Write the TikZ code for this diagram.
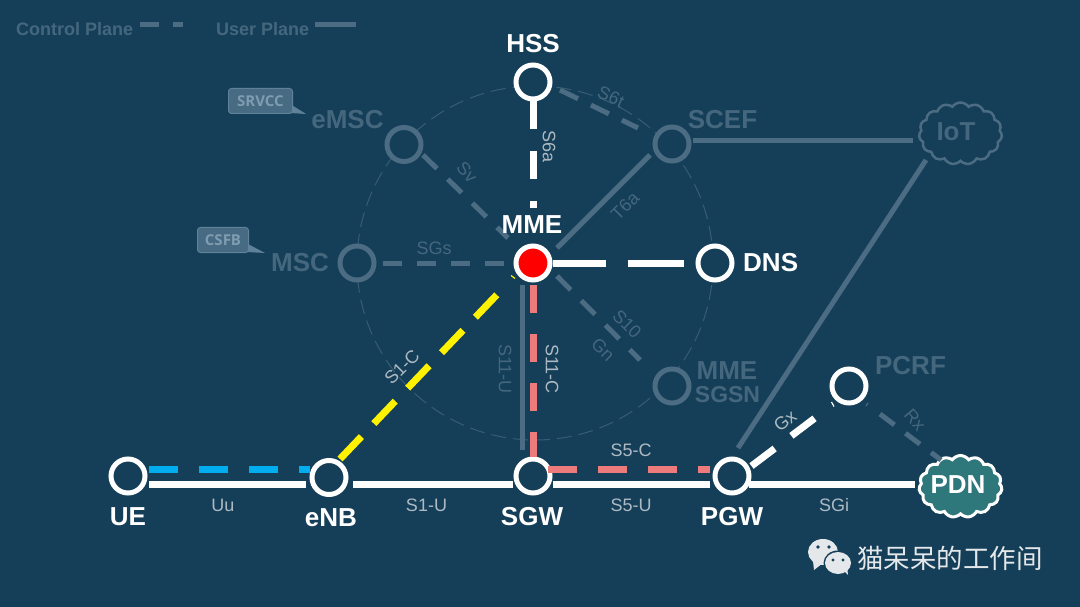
\documentclass[tikz,border=0pt]{standalone}
\usepackage{fontspec}
\setmainfont{Liberation Sans}
\newfontfamily\cjkfont{Noto Sans CJK SC}
\newfontfamily\callfont{Open Sans}
\usetikzlibrary{shapes.symbols}
\definecolor{bgc}{HTML}{153F58}
\definecolor{dimc}{HTML}{4B6C82}
\definecolor{dimt}{HTML}{44677D}
\definecolor{lab}{HTML}{AEBAC3}
\definecolor{salmon}{HTML}{EE7B7B}
\definecolor{bluec}{HTML}{00AEEF}
\definecolor{yel}{HTML}{FFF200}
\definecolor{pdnc}{HTML}{2E787C}
\definecolor{callf}{HTML}{466B82}
\definecolor{callb}{HTML}{5F8299}
\definecolor{callt}{HTML}{7F9CB0}
\definecolor{wec}{HTML}{E4E8EB}
\tikzset{
  ring/.style={circle,draw=white,fill=bgc,line width=5pt,minimum size=34pt,inner sep=0pt},
  dimring/.style={ring,draw=dimc},
  big/.style={font=\fontsize{26}{28}\selectfont\bfseries,text=white,inner sep=0pt},
  bigdim/.style={big,text=dimt},
  small/.style={font=\fontsize{18}{20}\selectfont,text=lab,inner sep=0pt},
  smalldim/.style={small,text=dimt},
  legendtext/.style={font=\fontsize{18}{20}\selectfont\bfseries,text=dimt,inner sep=0pt,anchor=west},
  userl/.style={draw=white,line width=7pt},
  ctrl/.style={line width=7pt,dash pattern=on 29pt off 21pt},
  dimuser/.style={draw=dimc,line width=5pt},
  dimctrl/.style={draw=dimc,line width=5pt,dash pattern=on 19.5pt off 15pt},
  sliver/.style={line width=1.2pt},
  callout/.style={draw=callb,line width=1pt,fill=callf,rounded corners=3pt,text=callt,
    font=\fontsize{15}{16}\selectfont\callfont\bfseries,inner sep=0pt},
  cloudy/.style={cloud,cloud puffs=15,cloud puff arc=110,aspect=1.35,inner sep=0pt,
    minimum width=83pt,minimum height=62pt},
}
\begin{document}
\begin{tikzpicture}[x=1pt,y=-1pt]
\useasboundingbox (0,0) rectangle (1080,607);
\fill[bgc] (0,0) rectangle (1080,607);
% dashed ring
\draw[dimc!65!bgc,line width=1pt,dash pattern=on 15pt off 7pt] (535,263) ellipse [x radius=178,y radius=177];
% nodes
\node[ring] (hss) at (533,82) {};
\node[ring,fill=red] (mme) at (533,263) {};
\node[ring] (dns) at (715,263) {};
\node[dimring] (emsc) at (404,144.5) {};
\node[dimring] (msc) at (357,263) {};
\node[dimring] (scef) at (672,144) {};
\node[dimring] (sgsn) at (672,386) {};
\node[ring] (pcrf) at (849,386) {};
\node[ring] (ue) at (128,476) {};
\node[ring] (enb) at (329,477.5) {};
\node[ring] (sgw) at (533,476) {};
\node[ring] (pgw) at (732,476) {};
\node[cloudy,draw=dimc,line width=2.5pt,fill=bgc] (iot) at (960.5,133.5) {};
\node[cloudy,draw=white,line width=3pt,fill=pdnc] (pdn) at (960.5,486.5) {};
% free ends of the connectors
\coordinate (hssEnd) at (533,208);
\coordinate (uA) at (149,484); \coordinate (uB) at (306,484);
\coordinate (uC) at (353,484); \coordinate (uD) at (513,484);
\coordinate (uE) at (553,484); \coordinate (uF) at (710,484);
\coordinate (uG) at (749,484); \coordinate (uH) at (915,484);
\coordinate (bA) at (149,469); \coordinate (bB) at (310,469);
\coordinate (sA) at (548,469); \coordinate (sB) at (710,469);
\coordinate (yA) at (340,459); \coordinate (yB) at (499.5,292);
\coordinate (yC) at (511,275.5); \coordinate (yD) at (515,278.5);
\coordinate (gxA) at (751.5,466); \coordinate (gxB) at (815,418);
\coordinate (gxC) at (831.5,402); \coordinate (gxD) at (834,406.5);
\coordinate (rxA) at (880,414); \coordinate (rxB) at (941,460);
\coordinate (rxC) at (866,406); \coordinate (rxD) at (868,403);
\coordinate (svA) at (423,155); \coordinate (svB) at (508,238);
\coordinate (tnA) at (557,276); \coordinate (tnB) at (640,360);
\coordinate (stA) at (560,90); \coordinate (stB) at (638,128);
\coordinate (tA) at (557,248); \coordinate (tB) at (650,155);
\coordinate (sgA) at (383,263); \coordinate (sgB) at (510,263);
\coordinate (iA) at (693,141); \coordinate (iB) at (913,141);
\coordinate (pA) at (738,448); \coordinate (pB) at (926,160);
\coordinate (suA) at (522,285); \coordinate (suB) at (522,450);
\coordinate (dA) at (140,25); \coordinate (dB) at (183,25);
\coordinate (dC) at (315,25); \coordinate (dD) at (356,25);
% dim connectors
\draw[dimctrl] (svA) -- (svB);
\draw[dimctrl] (tnA) -- (tnB);
\draw[dimctrl,dash pattern=on 20pt off 14.4pt] (stA) -- (stB);
\draw[dimctrl,dash pattern=on 19pt off 15pt] (sgA) -- (sgB);
\draw[dimuser] (tA) -- (tB);
\draw[dimuser] (iA) -- (iB);
\draw[dimuser] (pA) -- (pB);
\draw[dimuser] (suA) -- (suB);
\draw[dimctrl,dash pattern=on 18pt off 14pt] (rxA) -- (rxB);
\draw[dimc,sliver] (rxC) -- (rxD);
% control plane
\draw[white,ctrl,dash pattern=on 28pt off 22pt] (hss) -- (hssEnd);
\draw[white,ctrl,dash pattern=on 56pt off 22pt,dash phase=3pt] (mme) -- (dns);
\draw[bluec,ctrl] (bA) -- (bB);
\draw[yel,ctrl,dash pattern=on 31pt off 18pt] (yA) -- (yB);
\draw[yel,sliver] (yC) -- (yD);
\draw[salmon,ctrl,dash pattern=on 28pt off 21pt,shorten <=2.5pt] (mme) -- (sgw);
\draw[salmon,ctrl] (sA) -- (sB);
\draw[white,ctrl] (gxA) -- (gxB);
\draw[white,sliver] (gxC) -- (gxD);
% user plane
\draw[userl] (uA) -- (uB);
\draw[userl] (uC) -- (uD);
\draw[userl] (uE) -- (uF);
\draw[userl] (uG) -- (uH);
% big labels
\node[big] (lhss) at (533,43.5) {HSS};
\node[big] (lmme) at (532,224.5) {MME};
\node[big,anchor=west] (ldns) at (743,263) {DNS};
\node[big] (lue) at (128,517) {UE};
\node[big] (lenb) at (331,518) {eNB};
\node[big] (lsgw) at (532,517) {SGW};
\node[big] (lpgw) at (732,517) {PGW};
\node[big] (lpdn) at (958,485) {PDN};
\node[bigdim] (lemsc) at (347.5,120) {eMSC};
\node[bigdim] (lmsc) at (300,263) {MSC};
\node[bigdim] (lscef) at (722.5,120) {SCEF};
\node[bigdim] (liot) at (956,132) {IoT};
\node[bigdim] (lpcrf) at (910.5,366) {PCRF};
\node[bigdim] (lmme2) at (727,371) {MME};
\node[bigdim,font=\fontsize{23}{25}\selectfont\bfseries] (lsgsn) at (727.5,395) {SGSN};
% small labels
\node[small] (luu) at (223,505) {Uu};
\node[small] (ls1u) at (426.5,505) {S1-U};
\node[small] (ls5u) at (631,505) {S5-U};
\node[small] (ls5c) at (631,450) {S5-C};
\node[small] (lsgi) at (834,505) {SGi};
\node[small,rotate=-90] (ls6a) at (549,147) {S6a};
\node[small,rotate=-90] (ls11c) at (552,369) {S11-C};
\node[small,rotate=45] (ls1c) at (402,367) {S1-C};
\node[small,rotate=38] (lgx) at (785,421) {Gx};
\node[smalldim,rotate=-90] (ls11u) at (505,369) {S11-U};
\node[smalldim] (lsgs) at (434,248) {SGs};
\node[smalldim,rotate=-48] (lsv) at (467,172) {Sv};
\node[smalldim,rotate=-25] (ls6t) at (611,97) {S6t};
\node[smalldim,rotate=45] (lt6a) at (625,206) {T6a};
\node[smalldim,rotate=-45] (ls10) at (627,324) {S10};
\node[smalldim,rotate=-45] (lgn) at (603,350) {Gn};
\node[smalldim,rotate=-50] (lrx) at (915,420) {Rx};
% legend
\node[legendtext] (lcp) at (16,29.5) {Control Plane};
\node[legendtext] (lup) at (216,29.5) {User Plane};
\draw[dimuser,dash pattern=on 19pt off 14pt] (dA) -- (dB);
\draw[dimuser] (dC) -- (dD);
% callouts
\coordinate (tipA) at (306,114); \coordinate (tipB) at (265,253);
\fill[callb] (290,104) -- (tipA) -- (290,113) -- cycle;
\fill[callb] (246,243) -- (tipB) -- (246,252) -- cycle;
\node[callout,minimum width=64pt,minimum height=25pt] (srvcc) at (260.5,101) {SRVCC};
\node[callout,minimum width=51pt,minimum height=25pt] (csfb) at (223,240) {CSFB};
% wechat mark
\fill[wec] (823,552) ellipse [x radius=15,y radius=13];
\fill[wec] (813,561) -- (814,570) -- (823,563) -- cycle;
\fill[bgc] (838,563) ellipse [x radius=14.5,y radius=12.5];
\fill[wec] (838,563) ellipse [x radius=13,y radius=11];
\fill[wec] (843,570) -- (848,575) -- (847,566) -- cycle;
\fill[bgc] (818,547) circle (1.8) (829,547) circle (1.8) (833,560) circle (1.6) (843,560) circle (1.6);
\node[font=\fontsize{26.5}{28}\selectfont\cjkfont,text=wec,inner sep=0pt,anchor=west] (wm) at (857,558) {猫呆呆的工作间};
\end{tikzpicture}
\end{document}
